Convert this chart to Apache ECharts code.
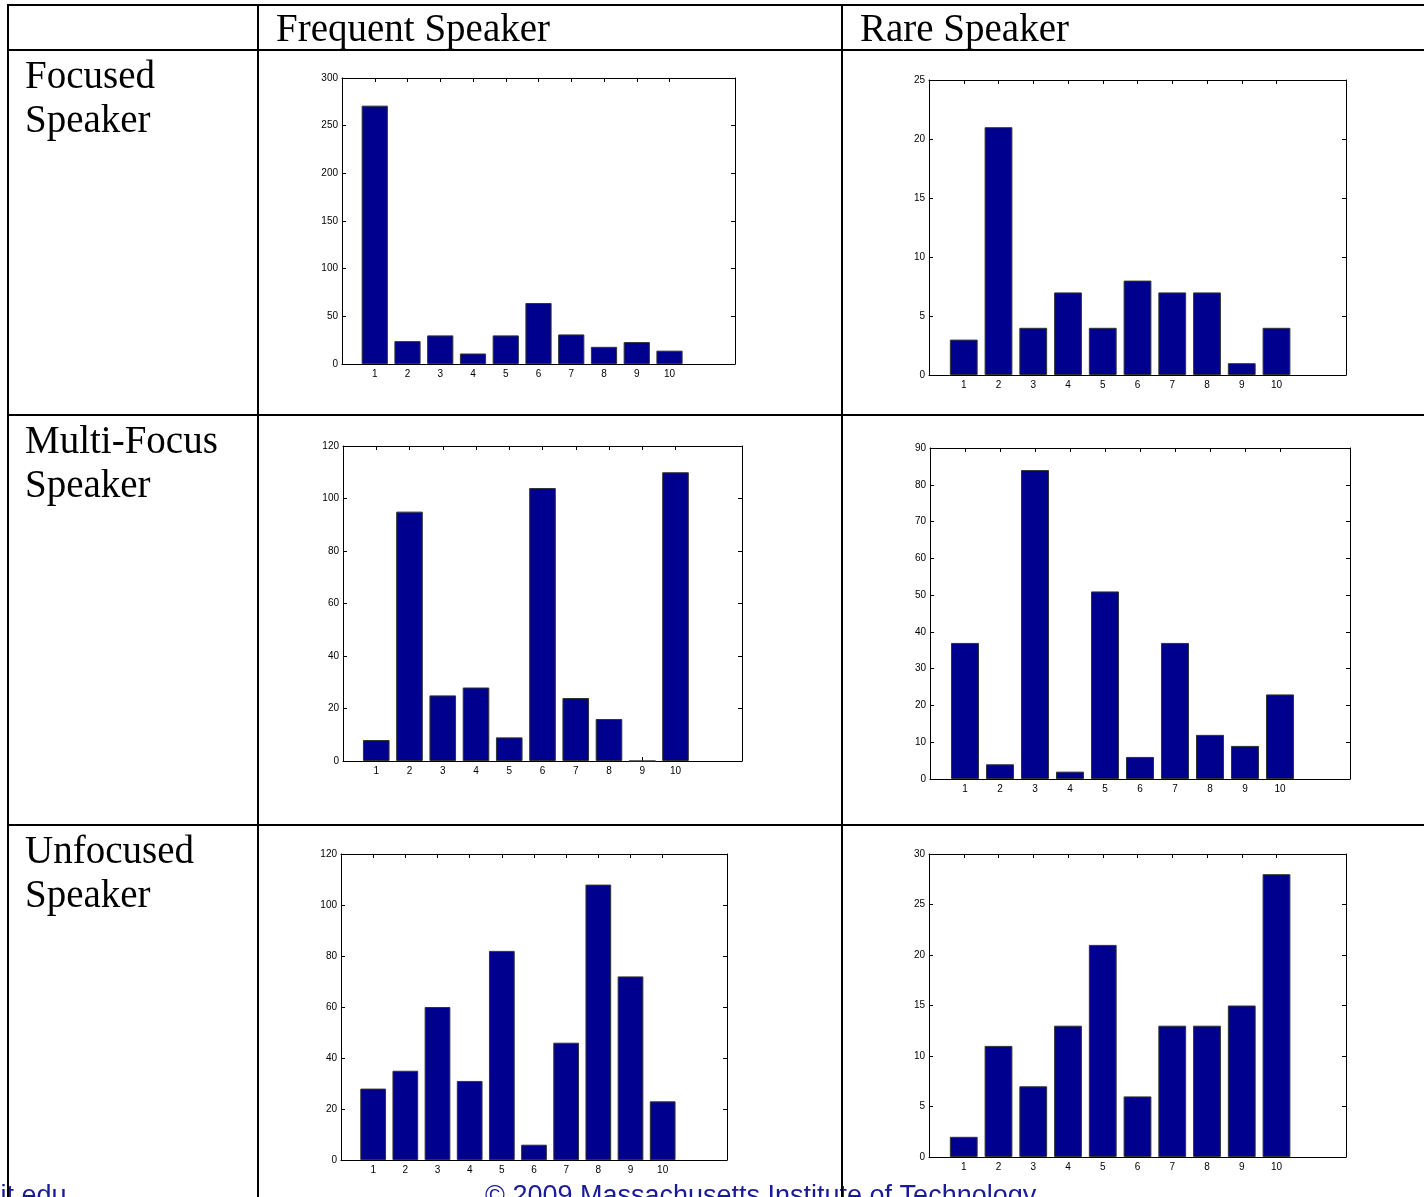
<!DOCTYPE html>
<html>
<head>
<meta charset="utf-8">
<script src="https://cdn.jsdelivr.net/npm/echarts@6/dist/echarts.min.js"></script>
<style>
body { margin: 0; background: #fff; }
#chart { width: 1424px; height: 1197px; }
</style>
</head>
<body>
<div id="chart"></div>
<script>
// data
const categories = [1, 2, 3, 4, 5, 6, 7, 8, 9, 10];
const focusedFrequent = [271, 24, 30, 11, 30, 64, 31, 18, 23, 14];
const focusedRare = [3, 21, 4, 7, 4, 8, 7, 7, 1, 4];
const multiFrequent = [8, 95, 25, 28, 9, 104, 24, 16, 0, 110];
const multiRare = [37, 4, 84, 2, 51, 6, 37, 12, 9, 23];
const unfocusedFrequent = [28, 35, 60, 31, 82, 6, 46, 108, 72, 23];
const unfocusedRare = [2, 11, 7, 13, 21, 6, 13, 13, 15, 28];

const yMax = [300, 25, 120, 90, 120, 30];
const yStep = [50, 5, 20, 10, 20, 5];

const columnTitles = ['Frequent Speaker', 'Rare Speaker'];
const rowTitles = ['Focused\nSpeaker', 'Multi-Focus\nSpeaker', 'Unfocused\nSpeaker'];

const panelData = [focusedFrequent, focusedRare, multiFrequent, multiRare, unfocusedFrequent, unfocusedRare];

// plot box of every small chart
const boxes = [
    {left: 342, top: 78, right: 735, bottom: 364},
    {left: 929, top: 80, right: 1346, bottom: 375},
    {left: 343, top: 446, right: 742, bottom: 761},
    {left: 930, top: 448, right: 1350, bottom: 779},
    {left: 341, top: 854, right: 727, bottom: 1160},
    {left: 929, top: 854, right: 1346, bottom: 1157}
];

const barColor = '#00008f';
const axisColor = '#000';
const tableFont = 'Liberation Serif, Times New Roman, serif';
const footFont = '27px Liberation Sans, Arial, sans-serif';

let grids = [], xAxes = [], yAxes = [], series = [];

boxes.forEach(function (b, i) {
    grids.push({
        left: b.left, top: b.top,
        width: b.right - b.left, height: b.bottom - b.top,
        containLabel: false
    });
    ['bottom', 'top'].forEach(function (pos) {
        xAxes.push({
            type: 'value', gridIndex: i, position: pos,
            min: 0, max: 12, interval: 1,
            axisLine: {show: true, onZero: false, lineStyle: {color: axisColor, width: 1}},
            axisTick: {show: true, inside: true, length: 4, customValues: categories,
                lineStyle: {color: axisColor}},
            axisLabel: {
                show: pos === 'bottom', customValues: categories,
                color: '#000', fontSize: 10, margin: 5,
                fontFamily: 'Liberation Sans, Arial, sans-serif',
                formatter: function (v) { return categories.indexOf(v) >= 0 ? String(v) : ''; }
            },
            splitLine: {show: false}
        });
    });
    ['left', 'right'].forEach(function (pos) {
        yAxes.push({
            type: 'value', gridIndex: i, position: pos,
            min: 0, max: yMax[i], interval: yStep[i],
            axisLine: {show: true, onZero: false, lineStyle: {color: axisColor, width: 1}},
            axisTick: {show: true, inside: true, length: 4, lineStyle: {color: axisColor}},
            axisLabel: {
                show: pos === 'left', color: '#000', fontSize: 10, margin: 4,
                fontFamily: 'Liberation Sans, Arial, sans-serif'
            },
            splitLine: {show: false}
        });
    });
    series.push({
        type: 'bar',
        xAxisIndex: i * 2, yAxisIndex: i * 2,
        data: categories.map(function (c, k) { return [c, panelData[i][k]]; }),
        barWidth: '80%',
        itemStyle: {color: barColor, borderColor: '#333', borderWidth: 1},
        animation: false
    });
});

// table lines and texts
function hLine(y) {
    return {type: 'line', shape: {x1: 7, y1: y, x2: 1424, y2: y},
        style: {stroke: '#000', lineWidth: 2}, z: 10};
}
function vLine(x) {
    return {type: 'line', shape: {x1: x, y1: 4, x2: x, y2: 1197},
        style: {stroke: '#000', lineWidth: 2}, z: 10};
}
let graphics = [hLine(5), hLine(50), hLine(415), hLine(825), vLine(8), vLine(258), vLine(842)];

graphics.push({type: 'text', left: 276, top: 11,
    style: {text: columnTitles[0], font: '39px ' + tableFont, fill: '#000'}});
graphics.push({type: 'text', left: 860, top: 11,
    style: {text: columnTitles[1], font: '39px ' + tableFont, fill: '#000'}});

[56, 421, 831].forEach(function (y, r) {
    graphics.push({type: 'text', left: 25, top: y,
        style: {text: rowTitles[r], font: '39px ' + tableFont, lineHeight: 44, fill: '#000'}});
});

// slide footer, cut at the bottom edge
graphics.push({type: 'text', left: -79, top: 1183,
    style: {text: 'web.mit.edu', font: footFont, fill: '#1a1a9a'}, z: 5});
graphics.push({type: 'text', left: 485, top: 1183,
    style: {text: '\u00a9 2009 Massachusetts Institute of Technology', font: footFont, fill: '#1a1a9a'}, z: 5});

let myChart = echarts.init(document.getElementById('chart'));
myChart.setOption({
    animation: false,
    backgroundColor: '#fff',
    grid: grids,
    xAxis: xAxes,
    yAxis: yAxes,
    series: series,
    graphic: graphics
});
</script>
</body>
</html>
